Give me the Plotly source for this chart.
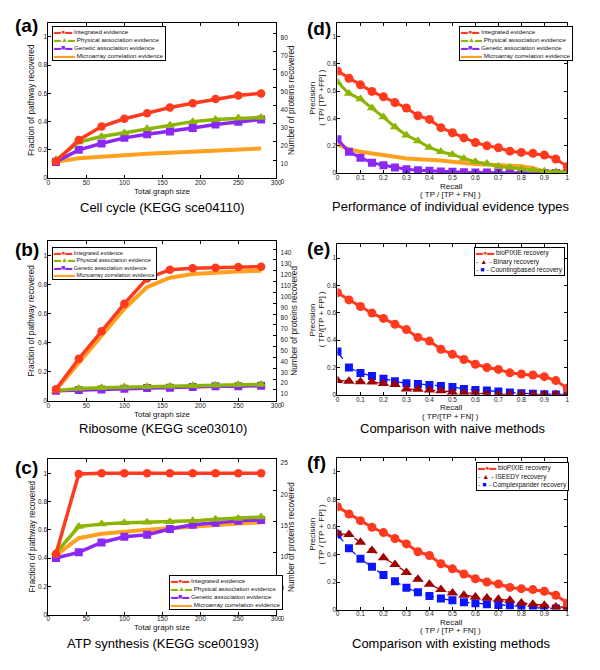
import plotly.graph_objects as go

W, H = 600, 670
FONT = "Liberation Sans, Arial, Helvetica, sans-serif"

# ---------------- data ----------------
graph_size = [10, 40, 70, 100, 130, 160, 190, 220, 250, 280]

cell_cycle_integrated = [0.12, 0.27, 0.365, 0.42, 0.46, 0.50, 0.53, 0.56, 0.585, 0.60]
cell_cycle_physical = [0.13, 0.255, 0.295, 0.32, 0.35, 0.375, 0.40, 0.415, 0.425, 0.43]
cell_cycle_genetic = [0.115, 0.20, 0.245, 0.285, 0.31, 0.33, 0.355, 0.38, 0.40, 0.415]
cell_cycle_microarray = [0.115, 0.14, 0.152, 0.165, 0.172, 0.18, 0.187, 0.195, 0.203, 0.21]

ribosome_integrated = [0.08, 0.29, 0.48, 0.67, 0.845, 0.905, 0.915, 0.918, 0.924, 0.926]
ribosome_physical = [0.07, 0.085, 0.09, 0.095, 0.097, 0.10, 0.104, 0.108, 0.11, 0.113]
ribosome_genetic = [0.07, 0.075, 0.077, 0.083, 0.088, 0.09, 0.095, 0.10, 0.10, 0.104]
ribosome_microarray = [0.075, 0.265, 0.45, 0.635, 0.785, 0.85, 0.875, 0.886, 0.893, 0.898]

atp_integrated = [0.43, 0.995, 1.0, 1.0, 1.0, 1.0, 1.0, 1.0, 1.0, 1.0]
atp_physical = [0.437, 0.623, 0.64, 0.65, 0.653, 0.656, 0.663, 0.674, 0.68, 0.69]
atp_genetic = [0.40, 0.44, 0.51, 0.55, 0.565, 0.605, 0.635, 0.65, 0.663, 0.67]
atp_microarray = [0.42, 0.54, 0.572, 0.588, 0.60, 0.61, 0.623, 0.635, 0.644, 0.653]

# right-axis maxima (number of proteins) for panels a, b, c
proteins_axis_max = [86, 147, 25]
proteins_axis_dtick = [10, 10, 5]

recall = [0, 0.05, 0.1, 0.15, 0.2, 0.25, 0.3, 0.35, 0.4, 0.45, 0.5,
          0.55, 0.6, 0.65, 0.7, 0.75, 0.8, 0.85, 0.9, 0.95, 1.0]

prec_integrated = [0.747, 0.694, 0.646, 0.598, 0.559, 0.516, 0.477, 0.42, 0.393, 0.333, 0.296,
                   0.258, 0.224, 0.20, 0.186, 0.161, 0.152, 0.145, 0.133, 0.104, 0.048]
prec_physical = [0.667, 0.583, 0.542, 0.477, 0.41, 0.337, 0.277, 0.236, 0.188, 0.157, 0.137,
                 0.108, 0.084, 0.07, 0.048, 0.041, 0.031, 0.024, 0.014, 0.01, 0.007]
prec_genetic = [0.248, 0.157, 0.113, 0.077, 0.058, 0.041, 0.029, 0.022, 0.017, 0.012, 0.01,
                0.006, 0.005, 0.004, 0.004, 0.003, 0.003, 0.002, 0.002, 0.002, 0.001]
prec_microarray = [0.212, 0.173, 0.157, 0.147, 0.137, 0.12, 0.108, 0.104, 0.096, 0.092, 0.084,
                   0.072, 0.067, 0.063, 0.06, 0.055, 0.05, 0.036, 0.012, 0.012, 0.01]

prec_biopixie = prec_integrated
prec_binary = [0.104, 0.099, 0.096, 0.094, 0.082, 0.075, 0.043, 0.041, 0.036, 0.029, 0.019,
               0.014, 0.012, 0.005, 0.003, 0.003, 0.003, 0.003, 0.003, 0.003, 0.003]
prec_counting = [0.316, 0.20, 0.159, 0.137, 0.118, 0.099, 0.084, 0.08, 0.072, 0.065, 0.058,
                 0.043, 0.036, 0.031, 0.024, 0.017, 0.012, 0.007, 0.005, 0.003, 0.002]
prec_iseedy = [0.554, 0.545, 0.489, 0.429, 0.376, 0.328, 0.27, 0.22, 0.183, 0.145, 0.12,
               0.104, 0.092, 0.084, 0.075, 0.067, 0.048, 0.039, 0.031, 0.019, 0.014]
prec_complexpander = [0.545, 0.446, 0.369, 0.311, 0.251, 0.205, 0.159, 0.125, 0.099, 0.08, 0.067,
                      0.053, 0.046, 0.039, 0.034, 0.029, 0.024, 0.014, 0.01, 0.007, 0.005]

evidence_names = ["Integrated evidence", "Physical association evidence",
                  "Genetic association evidence", "Microarray correlation evidence"]
naive_names = ["bioPIXIE recovery", "Binary recovery", "Countingbased recovery"]
existing_names = ["bioPIXIE recovery", "ISEEDY recovery", "Complexpander recovery"]

panel_titles = ["Cell cycle (KEGG sce04110)", "Ribosome (KEGG sce03010)",
                "ATP synthesis (KEGG sce00193)", "Performance of individual evidence types",
                "Comparison with naive methods", "Comparison with existing methods"]
panel_letters = ["(a)", "(b)", "(c)", "(d)", "(e)", "(f)"]

# ---------------- styles ----------------
RED = "#ff3a1e"
GREEN = "#8cb400"
PURPLE = "#8c28f5"
ORANGE = "#ffa01e"
DARKRED = "#a00000"
BLUE = "#0a14ff"

# panel boxes in pixels: (left, right, top, bottom)
boxes = [(47, 278, 23, 180), (47, 278, 244, 405), (47, 278, 464, 621),
         (340, 573, 23, 175), (340, 573, 247, 399), (340, 573, 463, 616)]


def xd(l, r):
    return [l / W, r / W]


def yd(t, b):
    return [1 - b / H, 1 - t / H]


def px(x):
    return x / W


def py(y):
    return 1 - y / H


fig = go.Figure()


def add(axi, x, y, color, symbol=None, size=8, width=3.5, dash="solid", name=""):
    xa = "x" if axi == 1 else f"x{axi}"
    ya = "y" if axi == 1 else f"y{axi}"
    mode = "lines+markers" if symbol else "lines"
    fig.add_trace(go.Scatter(
        x=x, y=y, mode=mode, name=name, showlegend=False, xaxis=xa, yaxis=ya,
        line=dict(color=color, width=width, dash=dash),
        marker=dict(symbol=symbol or "circle", size=size, color=color, line=dict(width=0)),
    ))


# panels a-c (evidence series over graph size)
for i, series in enumerate([
    (cell_cycle_integrated, cell_cycle_physical, cell_cycle_genetic, cell_cycle_microarray),
    (ribosome_integrated, ribosome_physical, ribosome_genetic, ribosome_microarray),
    (atp_integrated, atp_physical, atp_genetic, atp_microarray),
]):
    axi = i + 1
    add(axi, graph_size, series[3], ORANGE, None, width=4, name=evidence_names[3])
    add(axi, graph_size, series[2], PURPLE, "square", 8, 3.5, name=evidence_names[2])
    add(axi, graph_size, series[1], GREEN, "triangle-up", 9, 3.5, name=evidence_names[1])
    add(axi, graph_size, series[0], RED, "circle", 8.5, 3.5, name=evidence_names[0])
    # empty trace so the right-hand protein axis is drawn
    fig.add_trace(go.Scatter(x=[], y=[], xaxis="x" if axi == 1 else f"x{axi}",
                             yaxis=f"y{axi + 6}", showlegend=False, hoverinfo="skip"))

# panel d
add(4, recall, prec_microarray, ORANGE, None, width=4, name=evidence_names[3])
add(4, recall, prec_genetic, PURPLE, "square", 8, 3, name=evidence_names[2])
add(4, recall, prec_physical, GREEN, "triangle-up", 9, 3, name=evidence_names[1])
add(4, recall, prec_integrated, RED, "circle", 9, 3, name=evidence_names[0])

# panel e
add(5, recall, prec_counting, BLUE, "square", 8, 1.3, "dash", naive_names[2])
add(5, recall, prec_binary, DARKRED, "triangle-up", 10, 1.3, "dash", naive_names[1])
add(5, recall, prec_biopixie, RED, "circle", 9, 3, name=naive_names[0])

# panel f
add(6, recall, prec_complexpander, BLUE, "square", 8, 1.3, "dash", existing_names[2])
add(6, recall, prec_iseedy, DARKRED, "triangle-up", 10, 1.3, "dash", existing_names[1])
add(6, recall, prec_biopixie, RED, "circle", 9, 3, name=existing_names[0])

# ---------------- axes ----------------
tickfont = dict(family=FONT, size=6.5, color="#222")
base = dict(showline=True, linecolor="black", linewidth=1, ticks="inside", ticklen=3,
            tickcolor="black", showgrid=False, zeroline=False, tickfont=tickfont,
            fixedrange=True)
xbase = dict(base, ticklabelstandoff=-2)
ybase = dict(base, ticklabelstandoff=-1)
rbase = dict(base, ticklabelstandoff=2, ticklabelshift=4)

layout = {}
for i, (l, r, t, b) in enumerate(boxes):
    axi = i + 1
    xk = "xaxis" if axi == 1 else f"xaxis{axi}"
    yk = "yaxis" if axi == 1 else f"yaxis{axi}"
    anchor_y = "y" if axi == 1 else f"y{axi}"
    anchor_x = "x" if axi == 1 else f"x{axi}"
    if axi <= 3:
        layout[xk] = dict(xbase, domain=xd(l, r), range=[0, 300], dtick=50, tick0=0,
                          anchor=anchor_y, mirror="ticks")
        layout[yk] = dict(ybase, domain=yd(t, b), range=[0, 1.1], dtick=0.2, tick0=0,
                          anchor=anchor_x, mirror=False)
        layout[f"yaxis{axi + 6}"] = dict(rbase, range=[0, proteins_axis_max[i]],
                                         dtick=proteins_axis_dtick[i], tick0=0,
                                         overlaying=anchor_y, side="right", anchor=anchor_x)
    else:
        layout[xk] = dict(xbase, domain=xd(l, r), range=[0, 1], dtick=0.1, tick0=0,
                          anchor=anchor_y, mirror="ticks")
        layout[yk] = dict(ybase, domain=yd(t, b), range=[0, 1.1], dtick=0.2, tick0=0,
                          anchor=anchor_x, mirror="ticks")

# ---------------- annotations ----------------
ann = []


def text(x, y, s, size=8, angle=0, xanchor="center", yanchor="middle", color="#111"):
    ann.append(dict(x=px(x), y=py(y), xref="paper", yref="paper", text=s, showarrow=False,
                    textangle=angle, xanchor=xanchor, yanchor=yanchor,
                    font=dict(family=FONT, size=size, color=color)))


title_pos = [(163, 210), (163, 433), (163, 650), (455, 209), (457, 433), (455, 650)]
letter_pos = [(11, 25.5), (11, 252), (11, 472), (307, 29), (307, 251), (307, 467)]
for i in range(6):
    text(*title_pos[i], panel_titles[i], size=13, color="black")
    text(*letter_pos[i], f"<b>{panel_letters[i]}</b>", size=19, xanchor="left", color="black")

right_title_x = [293.5, 296.5, 293]
for i in range(3):
    l, r, t, b = boxes[i]
    text(30, (t + b) / 2, "Fraction of pathway recovered", size=8.3, angle=-90)
    text(right_title_x[i], (t + b) / 2, "Number of proteins recovered", size=8.3, angle=-90)
    text((l + r) / 2, b + 13.5, "Total graph size", size=8)

prec_titles = ["( TP/ [TP +FP] )", "( TP/[TP + FP] )", "( TP / [TP + FP] )"]
rec_titles = ["( TP / [TP + FN] )", "( TP/[TP + FN] )", "( TP / [TP + FN] )"]
for k in range(3):
    l, r, t, b = boxes[3 + k]
    cy = (t + b) / 2
    text(315, cy, "Precision", size=8, angle=-90)
    text(324, cy, prec_titles[k], size=8, angle=-90)
    text(455, b + 13, "Recall", size=8)
    text(455, b + 21.5, rec_titles[k], size=8)


def legend(x, y, entries, size, xanchor="left", yanchor="top"):
    lines = []
    for glyph, color, name in entries:
        lines.append(f"<span style='color:{color};font-size:7px'>{glyph}</span> {name}")
    ann.append(dict(x=px(x), y=py(y), xref="paper", yref="paper", text="<br>".join(lines),
                    showarrow=False, align="left", xanchor=xanchor, yanchor=yanchor,
                    bgcolor="white", bordercolor="black", borderwidth=1, borderpad=1,
                    font=dict(family=FONT, size=size, color="#111")))


ev_entries = [("▬●▬", RED, evidence_names[0]), ("▬▲▬", GREEN, evidence_names[1]),
              ("▬■▬", PURPLE, evidence_names[2]), ("▬▬▬", ORANGE, evidence_names[3])]
legend(51, 26, ev_entries, 6.2)
legend(51, 250, ev_entries, 5.6)
legend(169, 616, ev_entries, 6.2, yanchor="bottom")
legend(463, 26.5, ev_entries, 6.2)
legend(478, 250, [("▬●▬", RED, naive_names[0]), ("- ▲ -", DARKRED, naive_names[1]),
                  ("- ■ -", BLUE, naive_names[2])], 6.6)
legend(480, 466.5, [("▬●▬", RED, existing_names[0]), ("- ▲ -", DARKRED, existing_names[1]),
                    ("- ■ -", BLUE, existing_names[2])], 6.6)

fig.update_layout(
    width=W, height=H, margin=dict(l=0, r=0, t=0, b=0),
    paper_bgcolor="white", plot_bgcolor="white", showlegend=False,
    font=dict(family=FONT), annotations=ann, **layout,
)

fig.write_html("out.html", config={"displayModeBar": False},
               post_script="document.body.style.margin='0px';")
